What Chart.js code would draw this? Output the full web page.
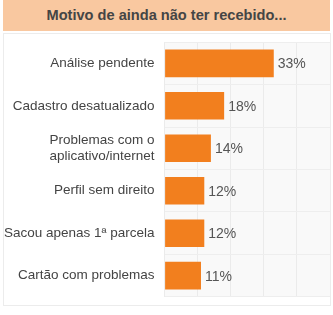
<!DOCTYPE html>
<html><head><meta charset="utf-8">
<script src="https://cdn.jsdelivr.net/npm/chart.js@4"></script>
<style>
html,body{margin:0;padding:0;background:#fff;width:333px;height:315px;overflow:hidden;font-family:"Liberation Sans",Arial,sans-serif;}
#title{position:absolute;left:3px;top:0;width:327px;height:31px;background:#F9C8A0;color:#454545;font-weight:bold;font-size:14.6px;line-height:31px;text-align:center;}
#wrap{position:absolute;left:3px;top:33px;width:326px;height:271px;border:1px solid #ececec;}
canvas{display:block;}
</style></head>
<body>
<div id="title">Motivo de ainda não ter recebido...</div>
<div id="wrap"><canvas id="c" width="326" height="271"></canvas></div>
<script>
const categories = ["Análise pendente", "Cadastro desatualizado", ["Problemas com o", "aplicativo/internet"], "Perfil sem direito", "Sacou apenas 1ª parcela", "Cartão com problemas"];
const values = [33, 18, 14, 12, 12, 11];
const valueLabels = ["33%", "18%", "14%", "12%", "12%", "11%"];

const plotBg = {
  id: 'plotBg',
  beforeDraw(chart) {
    const {ctx, chartArea: a} = chart;
    ctx.save();
    ctx.fillStyle = '#f9f9f9';
    ctx.fillRect(a.left, a.top, a.right - a.left, a.bottom - a.top);
    ctx.restore();
  }
};
const valLbl = {
  id: 'valLbl',
  afterDatasetsDraw(chart) {
    const {ctx} = chart;
    const meta = chart.getDatasetMeta(0);
    ctx.save();
    ctx.font = '14px "Liberation Sans", Arial, sans-serif';
    ctx.fillStyle = '#555';
    ctx.textAlign = 'left';
    ctx.textBaseline = 'middle';
    meta.data.forEach((bar, i) => {
      ctx.fillText(valueLabels[i], bar.x + 4, bar.y + 1);
    });
    ctx.restore();
  }
};

new Chart(document.getElementById('c'), {
  type: 'bar',
  data: {
    labels: categories,
    datasets: [{
      data: values,
      backgroundColor: '#F27F1E',
      categoryPercentage: 0.65,
      barPercentage: 1
    }]
  },
  options: {
    indexAxis: 'y',
    responsive: false,
    animation: false,
    layout: { padding: { top: 7, bottom: 7, right: 0, left: 0 } },
    plugins: { legend: { display: false }, tooltip: { enabled: false } },
    scales: {
      x: {
        min: 0, max: 50,
        ticks: { display: false, stepSize: 10 },
        grid: { color: '#ebebeb', drawTicks: false },
        border: { display: false }
      },
      y: {
        ticks: { color: '#444', font: { size: 13.5, family: '"Liberation Sans", Arial, sans-serif' }, padding: 0, autoSkip: false },
        grid: { color: '#eeeeee', offset: true, drawTicks: true, tickLength: 10, tickColor: 'rgba(0,0,0,0)' },
        border: { display: false }
      }
    }
  },
  plugins: [plotBg, valLbl]
});
</script>
</body></html>
